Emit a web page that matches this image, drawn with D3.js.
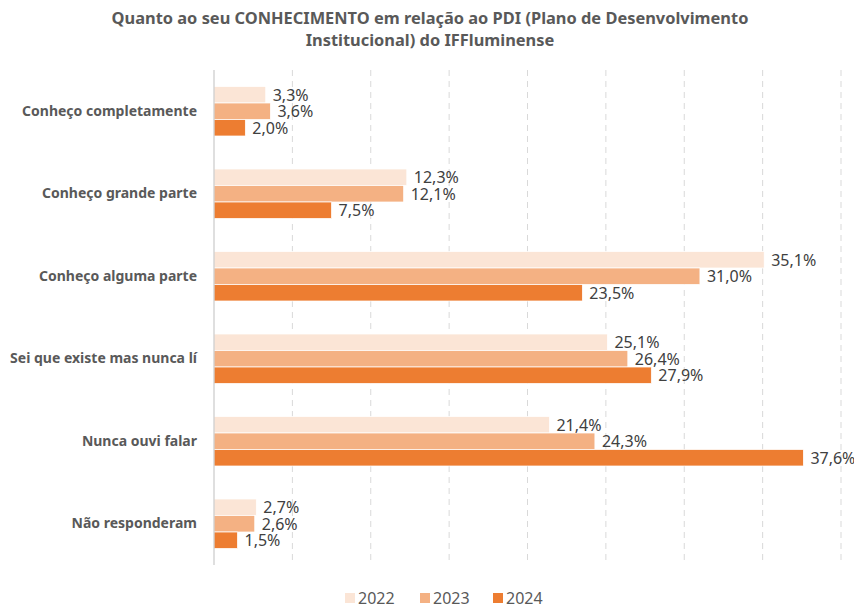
<!DOCTYPE html>
<html>
<head>
<meta charset="utf-8">
<script src="https://cdn.jsdelivr.net/npm/d3@7"></script>
<style>
  body { margin: 0; background: #fff; }
  svg text { font-family: "Noto Sans", "Open Sans", sans-serif; }
</style>
</head>
<body>
<div id="chart"></div>
<script>
// data
const categories = [
  'Conheço completamente',
  'Conheço grande parte',
  'Conheço alguma parte',
  'Sei que existe mas nunca lí',
  'Nunca ouvi falar',
  'Não responderam'
];
const years = ['2022', '2023', '2024'];
const values2022 = [3.3, 12.3, 35.1, 25.1, 21.4, 2.7];
const values2023 = [3.6, 12.1, 31.0, 26.4, 24.3, 2.6];
const values2024 = [2.0, 7.5, 23.5, 27.9, 37.6, 1.5];
const gridTicks = [0, 5, 10, 15, 20, 25, 30, 35, 40];
const titleLines = [
  'Quanto ao seu CONHECIMENTO em relação ao PDI (Plano de Desenvolvimento',
  'Institucional) do IFFluminense'
];

const seriesValues = [values2022, values2023, values2024];
const colors = ['#FBE5D6', '#F4B183', '#ED7D31'];

const width = 854, height = 610;
const margin = {top: 70, right: 13, bottom: 45, left: 214};
const innerW = width - margin.left - margin.right;
const innerH = height - margin.top - margin.bottom;

const svg = d3.select('#chart').append('svg')
  .attr('width', width)
  .attr('height', height);

// title
svg.append('g').selectAll('text')
  .data(titleLines)
  .enter().append('text')
  .attr('x', 430)
  .attr('y', (d, i) => 24 + i * 22)
  .attr('text-anchor', 'middle')
  .attr('font-size', 16.4)
  .attr('font-weight', 'bold')
  .attr('fill', '#595959')
  .text(d => d);

const g = svg.append('g')
  .attr('transform', `translate(${margin.left},${margin.top})`);

const x = d3.scaleLinear().domain([0, 40]).range([0, innerW]);
const y0 = d3.scaleBand().domain(categories).range([0, innerH]);
const band = y0.bandwidth();
const y1 = d3.scaleBand().domain(years).range([band * 0.2, band * 0.8]);

// gridlines
g.append('g')
  .selectAll('line')
  .data(gridTicks.slice(1))
  .enter().append('line')
  .attr('x1', d => x(d))
  .attr('x2', d => x(d))
  .attr('y1', 0)
  .attr('y2', innerH)
  .attr('stroke', '#d9d9d9')
  .attr('stroke-width', 1)
  .attr('stroke-dasharray', '6,5');

// bars
const rows = categories.map((c, i) => ({
  cat: c,
  vals: years.map((yr, j) => ({year: yr, value: seriesValues[j][i], idx: j}))
}));

const groups = g.selectAll('.grp')
  .data(rows)
  .enter().append('g')
  .attr('class', 'grp')
  .attr('transform', d => `translate(0,${y0(d.cat)})`);

groups.selectAll('rect')
  .data(d => d.vals)
  .enter().append('rect')
  .attr('x', 0)
  .attr('y', d => y1(d.year))
  .attr('width', d => x(d.value))
  .attr('height', y1.bandwidth())
  .attr('fill', d => colors[d.idx])
  .attr('stroke', '#fff')
  .attr('stroke-width', 0.75);

groups.selectAll('.lbl')
  .data(d => d.vals)
  .enter().append('text')
  .attr('class', 'lbl')
  .attr('x', d => x(d.value) + 7)
  .attr('y', d => y1(d.year) + y1.bandwidth() / 2)
  .attr('dy', '0.36em')
  .attr('font-size', 16)
  .attr('fill', '#404040')
  .text(d => d.value.toFixed(1).replace('.', ',') + '%');

// zero axis line
g.append('line')
  .attr('x1', x(0)).attr('x2', x(0))
  .attr('y1', 0).attr('y2', innerH)
  .attr('stroke', '#bfbfbf');

// category axis
const yAxis = g.append('g')
  .call(d3.axisLeft(y0).tickSize(0).tickPadding(17));
yAxis.select('.domain').remove();
yAxis.selectAll('text')
  .attr('font-size', 14)
  .attr('font-weight', 'bold')
  .attr('fill', '#595959')
  .style('font-family', '"Noto Sans", sans-serif');

// legend
const legend = svg.append('g')
  .attr('transform', 'translate(345,598)');
const legendX = [0, 75, 148];
const items = legend.selectAll('g')
  .data(years)
  .enter().append('g')
  .attr('transform', (d, i) => `translate(${legendX[i]},0)`);
items.append('rect')
  .attr('x', 0).attr('y', -5)
  .attr('width', 10).attr('height', 10)
  .attr('fill', (d, i) => colors[i]);
items.append('text')
  .attr('x', 13)
  .attr('dy', '0.36em')
  .attr('font-size', 16)
  .attr('fill', '#595959')
  .text(d => d);
</script>
</body>
</html>
